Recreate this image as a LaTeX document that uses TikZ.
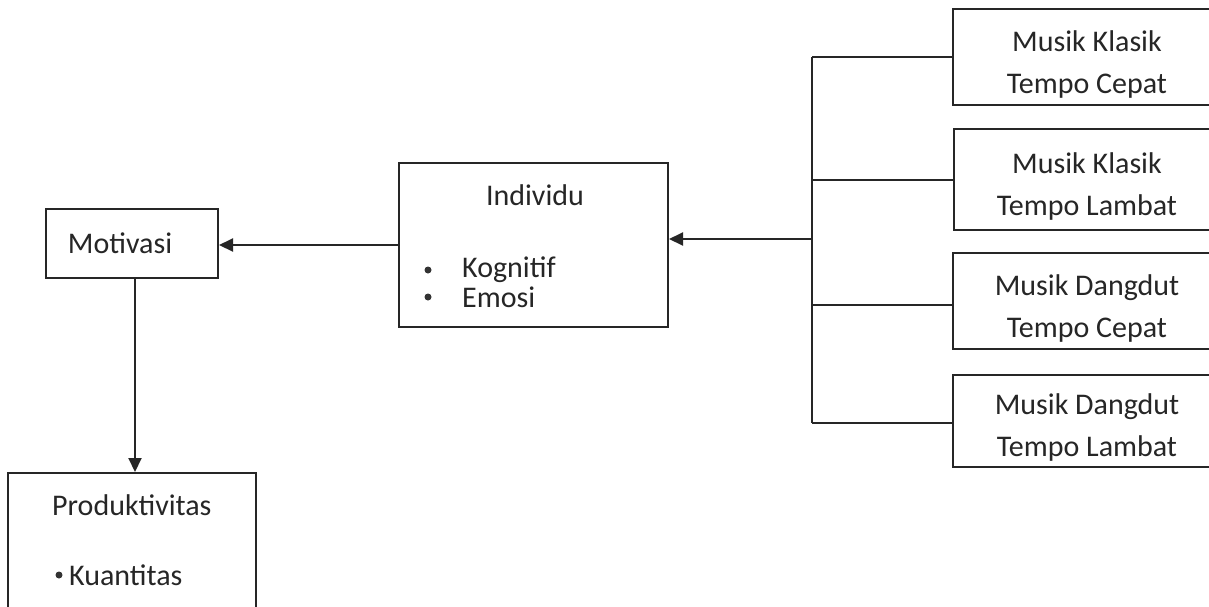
\documentclass[tikz,border=0pt]{standalone}
\usepackage{fontspec}
\setmainfont{Carlito}
\usetikzlibrary{arrows.meta}
\begin{document}
\begin{tikzpicture}[x=1pt,y=-1pt,
  box/.style={draw=black!85,line width=2pt,rectangle,inner sep=0pt},
  txt/.style={font=\fontsize{30}{42}\selectfont,text=black!85,inner sep=0pt},
  conn/.style={draw=black!85,line width=2pt},
  arr/.style={conn,-{Triangle[length=14pt,width=13pt]}}]
\useasboundingbox (0,0) rectangle (1209,606);
\clip (0,0) rectangle (1209,606);
% boxes
\node[box,minimum width=172pt,minimum height=69pt] (mot) at (132,243.5) {};
\node[box,minimum width=269pt,minimum height=164pt] (ind) at (533.5,245) {};
\node[box,minimum width=272pt,minimum height=96pt] (m1) at (1089,57) {};
\node[box,minimum width=272pt,minimum height=101pt] (m2) at (1090,179.5) {};
\node[box,minimum width=272pt,minimum height=96pt] (m3) at (1089,301) {};
\node[box,minimum width=272pt,minimum height=92pt] (m4) at (1089,421) {};
\node[box,minimum width=248pt,minimum height=160pt] (prod) at (132,553) {};
% texts
\node[txt] (tmot) at (120,243) {Motivasi};
\node[txt] (tind) at (535,195) {Individu};
\node[txt,anchor=west] (tk) at (462,270) {Kognitif};
\node[txt,anchor=west] (te) at (462,297) {Emosi};
\fill[black!80] (428,270) circle (3.5pt) (428,297) circle (3.5pt);
\node[txt,align=center] (t1) at (1087,64) {Musik Klasik\\Tempo Cepat};
\node[txt,align=center] (t2) at (1087,186) {Musik Klasik\\Tempo Lambat};
\node[txt,align=center] (t3) at (1087,308) {Musik Dangdut\\Tempo Cepat};
\node[txt,align=center] (t4) at (1087,427) {Musik Dangdut\\Tempo Lambat};
\node[txt,anchor=west] (tp) at (52,505) {Produktivitas};
\node[txt,anchor=west] (tq) at (69,575) {Kuantitas};
\fill[black!80] (59,575) circle (3.5pt);
% connectors
\coordinate (top) at (812,57);
\coordinate (bot) at (812,423);
\coordinate (mid) at (812,239);
\draw[conn] (top) -- (bot);
\draw[conn] (top) -- (m1.west);
\draw[conn] (m2.west -| top) -- (m2.west);
\draw[conn] (812,305) -- (m3.west |- 0,305);
\draw[conn] (bot) -- (m4.west |- bot);
\draw[arr] (mid) -- (ind.east |- mid);
\draw[arr] (ind.west) -- (mot.east |- ind.west);
\draw[arr] (mot.south -| 135,0) -- (prod.north -| 135,0);
\end{tikzpicture}
\end{document}
